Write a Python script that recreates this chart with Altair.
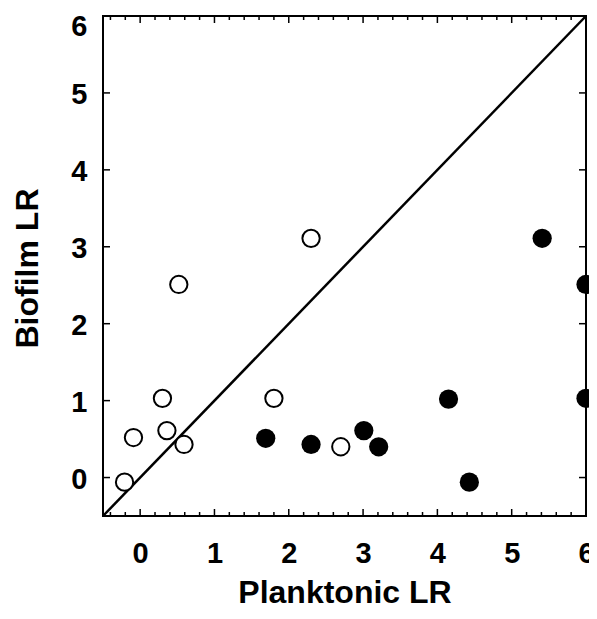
import altair as alt
import pandas as pd

# Open circles
open_x = [-0.21, -0.09, 0.30, 0.36, 0.59, 0.52, 1.80, 2.30, 2.70]
open_y = [-0.06, 0.52, 1.03, 0.61, 0.43, 2.51, 1.03, 3.11, 0.40]
# Filled circles
fill_x = [1.69, 2.30, 3.01, 3.21, 4.15, 4.43, 5.41, 6.00, 6.00]
fill_y = [0.51, 0.43, 0.61, 0.40, 1.02, -0.06, 3.11, 2.51, 1.03]
# Identity line
line_x = [-0.5, 6.0]
line_y = [-0.5, 6.0]
# Ticks
major_x = [0, 1, 2, 3, 4, 5, 6]
minor_x = [-0.4, -0.2, 0.2, 0.4, 0.6, 0.8, 1.2, 1.4, 1.6, 1.8, 2.2, 2.4, 2.6, 2.8,
           3.2, 3.4, 3.6, 3.8, 4.2, 4.4, 4.6, 4.8, 5.2, 5.4, 5.6, 5.8]
major_y = [0, 1, 2, 3, 4, 5, 6]

W, H = 483, 500
FONT = "Liberation Sans"

xs = alt.Scale(domain=[-0.5, 6], nice=False, zero=False)
ys = alt.Scale(domain=[-0.5, 6], nice=False, zero=False)

x_axis = alt.Axis(values=major_x, format="d", title="Planktonic LR", grid=False, ticks=False,
                  tickSize=0, domain=False, labelFont=FONT, labelFontSize=29,
                  labelFontWeight="bold", labelColor="black", labelPadding=46,
                  labelBaseline="alphabetic",
                  titleFont=FONT, titleFontSize=32, titleFontWeight="bold", titleColor="black",
                  titleBaseline="alphabetic", titleY=86, labelFlush=False, labelOverlap=False)
y_axis = alt.Axis(values=major_y, format="d", title="Biofilm LR", grid=False, ticks=False,
                  tickSize=0, domain=False, labelFont=FONT, labelFontSize=29,
                  labelFontWeight="bold", labelColor="black", labelPadding=16,
                  labelOffset={"condition": {"test": "datum.value == 6", "value": 10}, "value": 2},
                  titleFont=FONT, titleFontSize=32, titleFontWeight="bold", titleColor="black",
                  titleAngle=270, titleBaseline="alphabetic", titleAlign="center",
                  titleX=-66, titleY=252, labelFlush=False, labelOverlap=False)

df_open = pd.DataFrame({"x": open_x, "y": open_y})
df_fill = pd.DataFrame({"x": fill_x, "y": fill_y})
df_line = pd.DataFrame({"x": line_x, "y": line_y})
df_mx = pd.DataFrame({"v": major_x})
df_nx = pd.DataFrame({"v": minor_x})
df_my = pd.DataFrame({"v": major_y})

line = alt.Chart(df_line).mark_line(color="black", strokeWidth=2.5).encode(
    x=alt.X("x:Q", scale=xs, axis=x_axis),
    y=alt.Y("y:Q", scale=ys, axis=y_axis),
)

tick_style = dict(color="black", strokeWidth=1.5)
bx_major = alt.Chart(df_mx).mark_rule(**tick_style).encode(
    x=alt.X("v:Q", scale=xs), y=alt.value(H), y2=alt.value(H - 7))
bx_minor = alt.Chart(df_nx).mark_rule(**tick_style).encode(
    x=alt.X("v:Q", scale=xs), y=alt.value(H), y2=alt.value(H - 4))
tx_major = alt.Chart(df_mx).mark_rule(**tick_style).encode(
    x=alt.X("v:Q", scale=xs), y=alt.value(0), y2=alt.value(7))
tx_minor = alt.Chart(df_nx).mark_rule(**tick_style).encode(
    x=alt.X("v:Q", scale=xs), y=alt.value(0), y2=alt.value(4))
ly_major = alt.Chart(df_my).mark_rule(**tick_style).encode(
    y=alt.Y("v:Q", scale=ys), x=alt.value(0), x2=alt.value(7))
ry_major = alt.Chart(df_my).mark_rule(**tick_style).encode(
    y=alt.Y("v:Q", scale=ys), x=alt.value(W), x2=alt.value(W - 7))

open_pts = alt.Chart(df_open).mark_point(shape="circle", filled=False, fill="white",
                                         stroke="black", strokeWidth=2, size=300, opacity=1).encode(
    x=alt.X("x:Q", scale=xs), y=alt.Y("y:Q", scale=ys))
fill_pts = alt.Chart(df_fill).mark_circle(color="black", size=370, opacity=1).encode(
    x=alt.X("x:Q", scale=xs), y=alt.Y("y:Q", scale=ys))

chart = alt.layer(line, bx_major, bx_minor, tx_major, tx_minor, ly_major, ry_major,
                  open_pts, fill_pts).properties(
    width=W, height=H,
    autosize=alt.AutoSizeParams(type="none"),
    padding={"left": 95, "top": 8, "right": 3, "bottom": 95},
    background="white",
).configure_view(stroke="black", strokeWidth=2)

chart.save("out.html", embed_options={"renderer": "svg", "actions": False})
